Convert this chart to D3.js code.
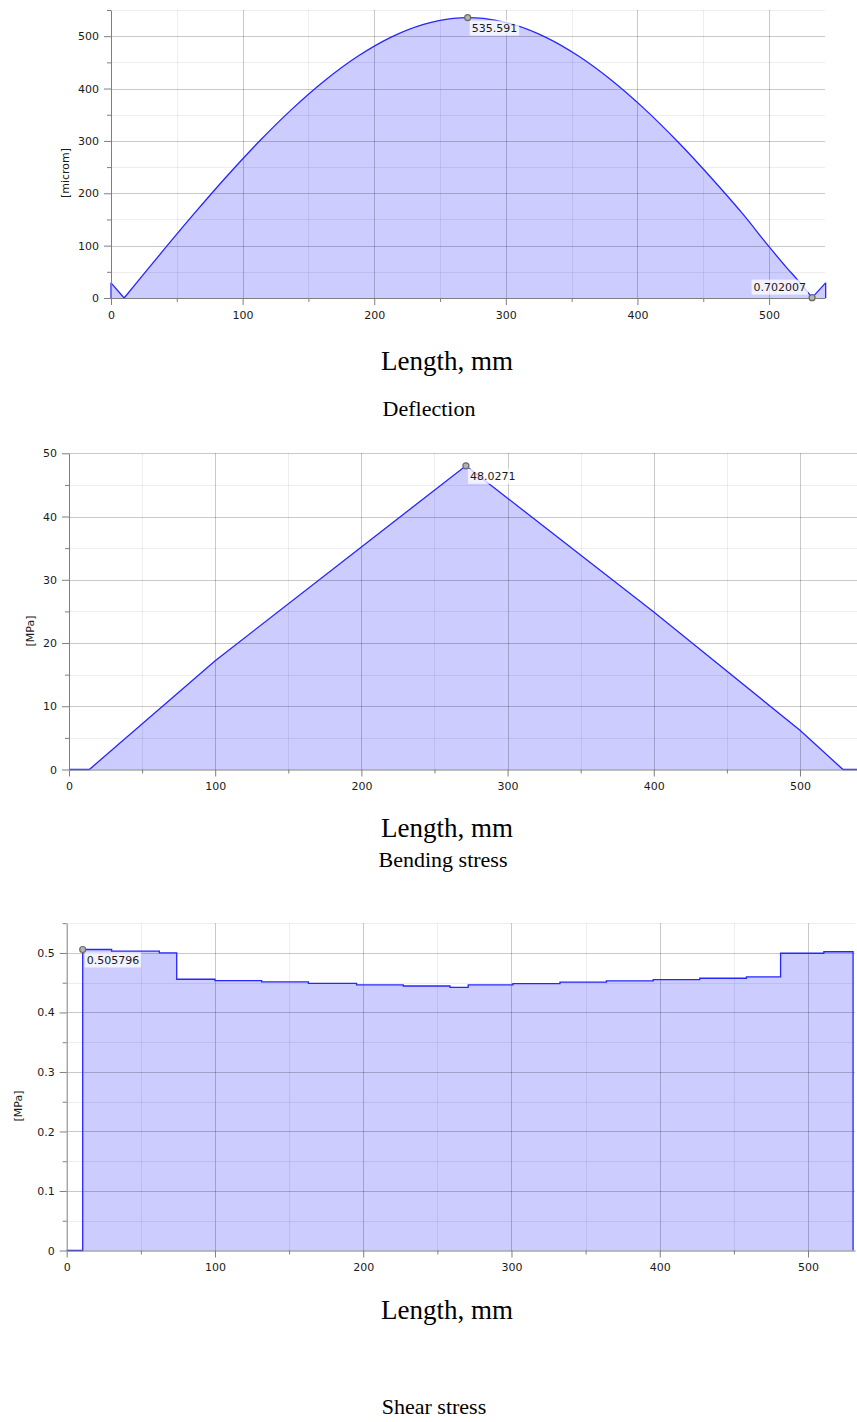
<!DOCTYPE html>
<html>
<head>
<meta charset="utf-8">
<script src="https://cdn.jsdelivr.net/npm/d3@7"></script>
<style>
  html, body { margin: 0; padding: 0; background: #ffffff; }
  svg { display: block; }
  .caption { font-family: "Liberation Serif", "Times New Roman", serif; font-size: 27px; fill: #000; }
  .caption.title { font-size: 22px; }
  .unit { font-family: "DejaVu Sans", Verdana, sans-serif; font-size: 11px; fill: #1a1a1a; }
  .note { font-family: "DejaVu Sans", Verdana, sans-serif; font-size: 11px; fill: #1a1a1a; }
</style>
</head>
<body>
<svg id="page" width="857" height="1422"></svg>
<script>
// ---- Deflection along the beam [microm] ----
const deflX = [0, 10, 20, 40, 62.5, 87.5, 112.5, 137.5, 162.5, 187.5, 212.5, 237.5, 260, 271,
               283, 305.5, 330.5, 355.5, 380.5, 405.5, 430.5, 455.5, 480.5, 500, 513, 523, 532.7, 543];
const deflY = [29, 0, 30.7, 91.8, 159.1, 231.1, 298.8, 360.7, 415.4, 461.6, 497.8, 522.6, 534.1, 535.591,
               534.1, 522.6, 497.8, 461.6, 415.4, 360.7, 298.8, 231.1, 159.1, 98, 59, 30.7, 0.702007, 29];
const deflMax = { x: 271, v: 535.591, label: "535.591" };
const deflMin = { x: 532.7, v: 0.702007, label: "0.702007" };
const deflTicksY = [0, 100, 200, 300, 400, 500];
const deflTicksX = [0, 100, 200, 300, 400, 500];

// ---- Bending stress [MPa] ----
const bendX = [0, 13.9, 100, 200, 271.5, 300, 400, 500, 529.4, 539];
const bendY = [0, 0, 17.2, 35.2, 48.0271, 42.9, 24.9, 6.2, 0, 0];
const bendMax = { x: 271.5, v: 48.0271, label: "48.0271" };
const bendTicksY = [0, 10, 20, 30, 40, 50];
const bendTicksX = [0, 100, 200, 300, 400, 500];

// ---- Shear stress [MPa], piecewise constant from each x onwards ----
const shearX = [0, 10.8, 30.3, 62.5, 74.2, 100, 131.5, 163, 195.5, 227, 258.5, 270.8, 301, 332.7, 364, 395.6, 427, 458.5, 481.5, 510.7, 530.4];
const shearY = [0, 0.505796, 0.503, 0.500, 0.4558, 0.4535, 0.4513, 0.449, 0.4462, 0.4445, 0.4420, 0.4462, 0.4484, 0.4510, 0.4530, 0.4552, 0.4575, 0.4597, 0.4995, 0.5020, 0];
const shearMax = { x: 10.8, v: 0.505796, label: "0.505796" };
const shearTicksY = [0, 0.1, 0.2, 0.3, 0.4, 0.5];
const shearTicksX = [0, 100, 200, 300, 400, 500];

const xCaption = "Length, mm";

const svg = d3.select("#page");

const FILL = "#ccccff";
const LINE = "#2626ff";
const AXIS = "#7f7f7f";
const GRID_MAJOR = "rgba(0,0,0,0.21)";
const GRID_MINOR = "rgba(0,0,0,0.065)";

function range(a, b, step) {
  const out = [];
  for (let v = a; v <= b + 1e-9; v += step) out.push(+v.toFixed(6));
  return out;
}

// value labels: integers print without decimals, the rest with one
const tickFmt = d => (Number.isInteger(d) ? d3.format("d")(d) : d3.format(".1f")(d));

function drawPanel(p) {
  const x = d3.scaleLinear().domain(p.xDomain).range([p.left, p.right]);
  const y = d3.scaleLinear().domain(p.yDomain).range([p.bottom, p.top]);
  const pts = p.xs.map((v, i) => [v, p.ys[i]]);
  const g = svg.append("g");

  // pieces of the curve, each with its own interpolation (sharing end points)
  const pieces = p.pieces || [{ from: 0, to: pts.length - 1, curve: p.curve }];

  // filled region under the curve
  const areaLayer = g.append("g");
  pieces.forEach(pc => {
    const area = d3.area().x(d => x(d[0])).y0(y(0)).y1(d => y(d[1])).curve(pc.curve);
    areaLayer.append("path").datum(pts.slice(pc.from, pc.to + 1)).attr("d", area).attr("fill", FILL);
  });

  // grid: minor lines at half steps, major lines at labelled values
  const yMinor = range(p.yDomain[0], p.yDomain[1], p.yStep / 2).filter(v => !p.yTicks.some(t => Math.abs(t - v) < 1e-9));
  const xMinor = range(0, p.xDomain[1], 50).filter(v => v % 100 !== 0);
  const grid = g.append("g").attr("shape-rendering", "crispEdges");
  grid.selectAll(".hmin").data(yMinor).join("line")
    .attr("x1", p.left).attr("x2", p.right)
    .attr("y1", d => Math.round(y(d)) + 0.5).attr("y2", d => Math.round(y(d)) + 0.5)
    .attr("stroke", GRID_MINOR);
  grid.selectAll(".vmin").data(xMinor).join("line")
    .attr("x1", d => Math.round(x(d)) + 0.5).attr("x2", d => Math.round(x(d)) + 0.5)
    .attr("y1", p.top).attr("y2", p.bottom)
    .attr("stroke", GRID_MINOR);
  grid.selectAll(".hmaj").data(p.yTicks.filter(v => v !== 0)).join("line")
    .attr("x1", p.left).attr("x2", p.right)
    .attr("y1", d => Math.round(y(d)) + 0.5).attr("y2", d => Math.round(y(d)) + 0.5)
    .attr("stroke", GRID_MAJOR);
  grid.selectAll(".vmaj").data(p.xTicks.filter(v => v !== 0)).join("line")
    .attr("x1", d => Math.round(x(d)) + 0.5).attr("x2", d => Math.round(x(d)) + 0.5)
    .attr("y1", p.top).attr("y2", p.bottom)
    .attr("stroke", GRID_MAJOR);

  // the curve itself, with its vertical edges where it starts/ends off zero
  const lineLayer = g.append("g").attr("fill", "none").attr("stroke", LINE).attr("stroke-width", 1.3);
  const straight = d3.line().x(d => x(d[0])).y(d => y(d[1]));
  const first = pts[0], last = pts[pts.length - 1];
  lineLayer.append("path").datum([[first[0], 0], first]).attr("d", straight);
  pieces.forEach(pc => {
    const line = d3.line().x(d => x(d[0])).y(d => y(d[1])).curve(pc.curve);
    lineLayer.append("path").datum(pts.slice(pc.from, pc.to + 1)).attr("d", line);
  });
  if (p.closeRight) lineLayer.append("path").datum([last, [last[0], 0]]).attr("d", straight);

  // axes
  const styleAxis = sel => {
    sel.select(".domain").attr("stroke", AXIS);
    sel.selectAll(".tick line").attr("stroke", AXIS);
    sel.selectAll(".tick text").attr("fill", "#1a1a1a")
      .attr("font-family", "'DejaVu Sans', Verdana, sans-serif").attr("font-size", 11);
  };
  const yAxisMinor = g.append("g").attr("transform", `translate(${p.left},0)`)
    .call(d3.axisLeft(y).tickValues(yMinor).tickSize(4).tickSizeOuter(0).tickFormat(""));
  styleAxis(yAxisMinor);
  const yAxis = g.append("g").attr("transform", `translate(${p.left},0)`)
    .call(d3.axisLeft(y).tickValues(p.yTicks).tickSize(7).tickPadding(5).tickSizeOuter(0).tickFormat(tickFmt));
  styleAxis(yAxis);
  yAxis.select(".domain").remove();

  const xAxisMinor = g.append("g").attr("transform", `translate(0,${p.bottom})`)
    .call(d3.axisBottom(x).tickValues(xMinor).tickSize(4).tickSizeOuter(0).tickFormat(""));
  styleAxis(xAxisMinor);
  const xAxis = g.append("g").attr("transform", `translate(0,${p.bottom})`)
    .call(d3.axisBottom(x).tickValues(p.xTicks).tickSize(7).tickPadding(6).tickSizeOuter(0).tickFormat(d3.format("d")));
  styleAxis(xAxis);
  xAxis.select(".domain").remove();

  // unit label on the value axis
  svg.append("text").attr("class", "unit")
    .attr("transform", `translate(${p.unitX},${p.unitY}) rotate(-90)`)
    .attr("text-anchor", "middle").attr("dy", "0.35em").text(p.unit);

  // annotated extreme points
  p.notes.forEach(n => {
    const cx = x(n.x), cy = y(n.v);
    const ng = svg.append("g");
    const t = ng.append("text").attr("class", "note")
      .attr("x", n.side === "left" ? cx - 6 : cx + 4)
      .attr("y", n.side === "left" ? cy - 7 : cy + 14)
      .attr("text-anchor", n.side === "left" ? "end" : "start")
      .text(n.label);
    const bb = t.node().getBBox();
    ng.insert("rect", "text")
      .attr("x", bb.x - 2).attr("y", bb.y - 1)
      .attr("width", bb.width + 4).attr("height", bb.height + 2)
      .attr("fill", "rgba(255,255,255,0.75)");
    ng.append("circle").attr("cx", cx).attr("cy", cy).attr("r", 3)
      .attr("fill", "#b4b4b4").attr("stroke", "#6a6a6a").attr("stroke-width", 1.2);
  });

  // captions below the chart
  p.captions.forEach(c => {
    svg.append("text").attr("class", c.title ? "caption title" : "caption")
      .attr("x", c.x).attr("y", c.y).attr("text-anchor", "middle").text(c.text);
  });
}

drawPanel({
  xs: deflX, ys: deflY, closeRight: true,
  pieces: [
    { from: 0, to: 1, curve: d3.curveLinear },
    { from: 1, to: deflX.length - 2, curve: d3.curveMonotoneX },
    { from: deflX.length - 2, to: deflX.length - 1, curve: d3.curveLinear }
  ],
  xDomain: [0, 542.5], yDomain: [0, 550], yStep: 100,
  left: 111, right: 825, top: 10, bottom: 298,
  yTicks: deflTicksY, xTicks: deflTicksX,
  unit: "[microm]", unitX: 65, unitY: 173,
  notes: [
    { x: deflMax.x, v: deflMax.v, label: deflMax.label, side: "right" },
    { x: deflMin.x, v: deflMin.v, label: deflMin.label, side: "left" }
  ],
  captions: [
    { text: xCaption, x: 447, y: 370 },
    { text: "Deflection", x: 429, y: 416, title: true }
  ]
});

drawPanel({
  xs: bendX, ys: bendY, curve: d3.curveLinear, closeRight: false,
  xDomain: [0, 539], yDomain: [0, 50], yStep: 10,
  left: 69, right: 857, top: 453.3, bottom: 769.5,
  yTicks: bendTicksY, xTicks: bendTicksX,
  unit: "[MPa]", unitX: 30, unitY: 631,
  notes: [
    { x: bendMax.x, v: bendMax.v, label: bendMax.label, side: "right" }
  ],
  captions: [
    { text: xCaption, x: 447, y: 837 },
    { text: "Bending stress", x: 443, y: 867, title: true }
  ]
});

drawPanel({
  xs: shearX, ys: shearY, curve: d3.curveStepAfter, closeRight: false,
  xDomain: [0, 531.7], yDomain: [0, 0.55], yStep: 0.1,
  left: 66.7, right: 855, top: 923.2, bottom: 1250.5,
  yTicks: shearTicksY, xTicks: shearTicksX,
  unit: "[MPa]", unitX: 18, unitY: 1106,
  notes: [
    { x: shearMax.x, v: shearMax.v, label: shearMax.label, side: "right" }
  ],
  captions: [
    { text: xCaption, x: 447, y: 1319 },
    { text: "Shear stress", x: 434, y: 1414, title: true }
  ]
});
</script>
</body>
</html>
